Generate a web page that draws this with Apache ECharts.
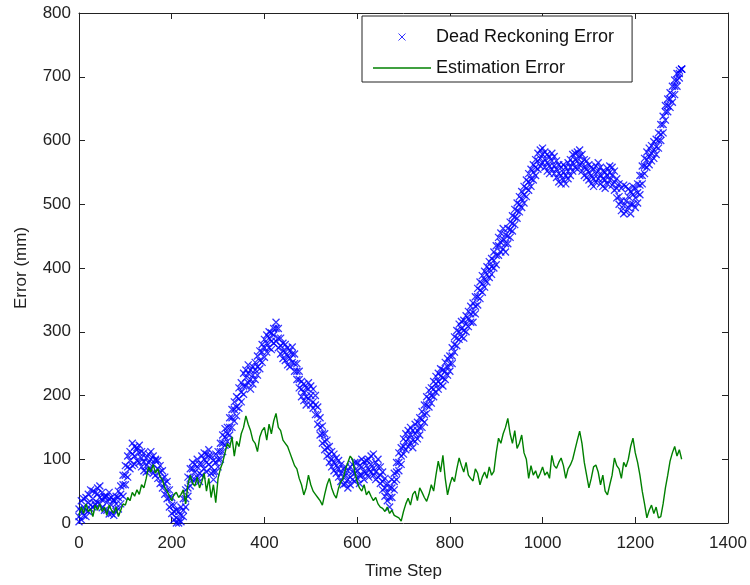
<!DOCTYPE html>
<html>
<head>
<meta charset="utf-8">
<script src="https://cdn.jsdelivr.net/npm/echarts@6/dist/echarts.min.js"></script>
<style>
  html, body { margin: 0; padding: 0; background: #fff; }
</style>
</head>
<body>
<div id="main" style="width:750px;height:585px;"></div>
<script>
var stepSize = 5;

// Dead Reckoning Error (mm), middle of the cross band, t = 0, 5, 10 ... 1300
var deadReckoning = [
  10, 18, 25, 20, 32, 28, 38, 30, 46, 40,
  36, 42, 32, 38, 28, 35, 30, 40, 45, 60,
  75, 88, 98, 108, 105, 115, 110, 102, 96, 90,
  95, 100, 92, 98, 85, 80, 70, 62, 52, 40,
  28, 18, 8, 5, 12, 20, 38, 55, 70, 85,
  80, 88, 78, 92, 100, 95, 105, 88, 80, 95,
  100, 112, 125, 135, 140, 150, 165, 178, 182, 195,
  205, 215, 228, 235, 225, 232, 240, 245, 255, 268,
  275, 282, 290, 285, 295, 305, 290, 278, 270, 268,
  262, 258, 265, 250, 238, 225, 210, 205, 198, 210,
  200, 190, 185, 170, 150, 140, 128, 118, 108, 100,
  95, 90, 85, 78, 72, 75, 68, 72, 80, 78,
  82, 75, 88, 80, 90, 84, 92, 86, 80, 88,
  75, 65, 55, 48, 40, 55, 65, 80, 95, 105,
  120, 128, 132, 138, 130, 140, 145, 150, 162, 170,
  185, 195, 200, 210, 218, 222, 230, 228, 238, 245,
  250, 262, 280, 290, 300, 305, 302, 312, 320, 328,
  330, 340, 355, 365, 375, 382, 390, 398, 402, 412,
  420, 435, 440, 445, 438, 450, 460, 470, 480, 490,
  500, 508, 515, 525, 535, 540, 550, 558, 568, 572,
  578, 570, 565, 560, 568, 560, 555, 548, 545, 550,
  545, 552, 558, 565, 570, 568, 575, 565, 558, 555,
  550, 545, 540, 548, 552, 545, 540, 538, 545, 550,
  545, 535, 525, 512, 505, 498, 505, 512, 500, 515,
  510, 518, 530, 545, 560, 570, 575, 580, 585, 590,
  600, 610, 625, 645, 655, 665, 672, 685, 695, 705,
  712
];

// upper edge of the cross band, same time steps
var deadReckoningHigh = [
  22, 35, 38, 40, 45, 52, 50, 48, 55, 58,
  48, 40, 42, 48, 40, 36, 42, 50, 58, 75,
  90, 105, 112, 125, 120, 118, 122, 112, 110, 102,
  108, 112, 105, 100, 98, 90, 82, 72, 65, 52,
  40, 28, 20, 18, 25, 38, 52, 72, 85, 95,
  92, 100, 92, 105, 110, 108, 115, 105, 98, 108,
  112, 125, 138, 148, 150, 165, 178, 190, 198, 212,
  220, 235, 240, 248, 240, 245, 252, 262, 270, 280,
  288, 295, 300, 298, 305, 315, 305, 290, 282, 280,
  275, 270, 276, 265, 250, 238, 222, 218, 212, 220,
  215, 210, 200, 182, 165, 152, 140, 130, 120, 112,
  108, 102, 98, 92, 85, 88, 82, 88, 92, 95,
  95, 90, 100, 96, 98, 100, 105, 108, 95, 100,
  88, 80, 70, 62, 55, 68, 78, 95, 110, 118,
  132, 140, 145, 150, 145, 155, 158, 165, 175, 185,
  198, 208, 212, 222, 230, 235, 242, 240, 252, 258,
  262, 275, 292, 302, 312, 316, 318, 325, 332, 340,
  345, 355, 368, 378, 388, 395, 402, 410, 415, 425,
  435, 448, 455, 462, 452, 462, 472, 482, 492, 502,
  512, 520, 528, 538, 548, 555, 562, 570, 580, 585,
  588, 582, 578, 574, 580, 575, 568, 562, 558, 562,
  558, 565, 570, 578, 580, 582, 585, 578, 570, 568,
  562, 558, 555, 560, 565, 558, 552, 550, 556, 560,
  558, 552, 540, 532, 525, 530, 528, 524, 520, 528,
  525, 532, 545, 560, 572, 582, 588, 592, 598, 602,
  612, 625, 638, 655, 665, 675, 685, 695, 705, 710,
  712
];

// lower edge of the cross band, same time steps
var deadReckoningLow = [
  2, 5, 12, 10, 18, 22, 25, 28, 32, 30,
  24, 20, 20, 14, 15, 12, 18, 22, 30, 42,
  60, 72, 85, 90, 92, 98, 95, 88, 82, 80,
  82, 85, 78, 75, 70, 62, 55, 45, 38, 25,
  15, 5, 0, 0, 2, 10, 25, 42, 58, 68,
  68, 72, 65, 75, 85, 80, 92, 78, 68, 80,
  88, 100, 112, 122, 128, 138, 150, 160, 168, 180,
  190, 202, 215, 220, 210, 218, 225, 232, 242, 252,
  260, 268, 275, 272, 282, 285, 275, 265, 258, 255,
  248, 245, 252, 238, 225, 212, 198, 192, 185, 195,
  185, 180, 170, 155, 138, 125, 115, 105, 95, 88,
  82, 78, 72, 65, 60, 62, 55, 60, 68, 65,
  70, 62, 75, 68, 78, 72, 80, 75, 68, 72,
  62, 52, 42, 35, 25, 40, 52, 68, 82, 92,
  108, 115, 120, 125, 118, 128, 132, 138, 150, 158,
  172, 182, 188, 198, 205, 210, 218, 215, 225, 232,
  238, 250, 268, 278, 288, 292, 290, 300, 308, 315,
  315, 328, 342, 352, 362, 370, 378, 385, 390, 400,
  405, 420, 425, 430, 425, 438, 448, 458, 468, 478,
  488, 495, 502, 512, 522, 528, 538, 545, 555, 560,
  565, 558, 552, 548, 555, 548, 542, 535, 532, 538,
  532, 540, 545, 552, 558, 555, 562, 552, 545, 542,
  538, 532, 528, 535, 540, 532, 528, 525, 532, 538,
  530, 522, 510, 500, 490, 485, 488, 495, 485, 500,
  495, 502, 515, 532, 548, 558, 562, 568, 572, 578,
  588, 600, 612, 632, 645, 652, 660, 672, 685, 698,
  712
];

// Estimation Error (mm), t = 0, 5, 10 ... 1300
var estimation = [
  12, 25, 15, 30, 18, 22, 10, 28, 20, 30,
  18, 25, 12, 28, 20, 15, 25, 10, 20, 30,
  28, 40, 35, 48, 42, 52, 45, 60, 55, 70,
  88, 80, 92, 78, 85, 72, 68, 55, 50, 42,
  35, 45, 48, 40, 45, 52, 30, 60, 75, 62,
  58, 72, 55, 65, 78, 50, 70, 40, 60, 32,
  70, 85, 95, 110, 125, 118, 135, 105, 128, 120,
  140, 150, 168, 155, 145, 130, 125, 112, 135, 145,
  150, 130, 155, 140, 160, 172, 150, 145, 130, 125,
  120, 110, 100, 90, 85, 70, 60, 44, 55, 75,
  60, 50, 45, 40, 35, 28, 45, 60, 70, 55,
  45, 39, 55, 65, 70, 85, 95, 105, 100, 80,
  65, 55, 50, 60, 44, 50, 42, 35, 40, 30,
  25, 23, 18, 25, 15, 20, 12, 10, 8, 3,
  18, 30, 39, 28, 45, 50, 35, 55, 48, 40,
  34, 45, 60, 50, 75, 97, 80, 106, 70, 44,
  60, 72, 65, 85, 102, 90, 80, 95, 75, 70,
  66, 85, 78, 60, 72, 80, 70, 88, 75, 81,
  110, 133, 125, 140, 150, 164, 140, 125, 145, 117,
  125, 138, 110, 100, 70, 90, 75, 82, 70, 78,
  88, 75, 80, 70, 106, 90, 86, 95, 102, 90,
  70, 85, 91, 100, 115, 130, 144, 125, 95, 75,
  55, 70, 88, 91, 80, 60, 75, 50, 44, 60,
  75, 102, 90, 85, 70, 95, 88, 100, 120, 133,
  110, 95, 75, 50, 30, 8, 20, 28, 15, 25,
  8, 10, 30, 55, 75, 97, 110, 120, 105, 115,
  100
];

var xTicks = { min: 0, max: 1400, interval: 200 };
var yTicks = { min: 0, max: 800, interval: 100 };

var crossPath = 'path://M0,0L10,10M10,0L0,10';
var lineIcon = 'path://M0,0L58,0L58,1.4L0,1.4Z';
var fontName = '"Liberation Sans", Arial, sans-serif';
var axisColor = '#222';

function pairs(arr) {
  return arr.map(function (v, i) { return [i * stepSize, v]; });
}

// every cross of the blue band
var blueMarks = pairs(deadReckoningLow)
  .concat(pairs(deadReckoningHigh))
  .concat(pairs(deadReckoning));

// box style axes: ticks point into the plot on all four sides
function frameAxis(extra, ticks) {
  var ax = {
    type: 'value',
    min: ticks.min, max: ticks.max, interval: ticks.interval,
    axisLine: { show: true, onZero: false, lineStyle: { color: axisColor, width: 1 } },
    axisTick: { show: true, inside: true, length: 6, lineStyle: { color: axisColor, width: 1 } },
    axisLabel: { show: false },
    splitLine: { show: false }
  };
  return Object.assign(ax, extra);
}

var labelStyle = {
  show: true, color: '#222', fontSize: 17, fontFamily: fontName,
  formatter: function (v) { return String(v); }
};
var nameStyle = { color: '#222', fontSize: 17, fontFamily: fontName };

var chart = echarts.init(document.getElementById('main'));

var option = {
  animation: false,
  backgroundColor: '#fff',
  grid: { left: 79, right: 22, top: 13, bottom: 60 },
  legend: {
    orient: 'vertical',
    left: 362,
    top: 16,
    padding: [12, 18, 5, 11],
    itemGap: 13,
    itemWidth: 58,
    itemHeight: 7,
    borderColor: '#222',
    borderWidth: 1,
    backgroundColor: '#fff',
    textStyle: { color: '#111', fontSize: 18, fontFamily: fontName },
    data: [
      { name: 'Dead Reckoning Error', icon: crossPath, itemStyle: { borderWidth: 1 } },
      { name: 'Estimation Error', icon: lineIcon, itemStyle: { color: '#008000', borderWidth: 0 } }
    ]
  },
  xAxis: [
    frameAxis({
      position: 'bottom',
      name: 'Time Step', nameLocation: 'middle', nameGap: 40, nameTextStyle: nameStyle,
      axisLabel: Object.assign({ margin: 12 }, labelStyle)
    }, xTicks),
    frameAxis({ position: 'top' }, xTicks)
  ],
  yAxis: [
    frameAxis({
      position: 'left',
      name: 'Error (mm)', nameLocation: 'middle', nameGap: 49, nameTextStyle: nameStyle,
      axisLabel: Object.assign({ margin: 8 }, labelStyle)
    }, yTicks),
    frameAxis({ position: 'right' }, yTicks)
  ],
  series: [
    {
      name: 'Dead Reckoning Error',
      type: 'scatter',
      symbol: crossPath,
      symbolSize: 7,
      itemStyle: { color: 'rgba(0,0,0,0)', borderColor: '#0000ff', borderWidth: 1.3 },
      data: blueMarks
    },
    {
      name: 'Estimation Error',
      type: 'line',
      symbol: 'none',
      showSymbol: false,
      lineStyle: { color: '#008000', width: 1.4 },
      itemStyle: { color: '#008000' },
      data: pairs(estimation)
    }
  ]
};

chart.setOption(option);
</script>
</body>
</html>
